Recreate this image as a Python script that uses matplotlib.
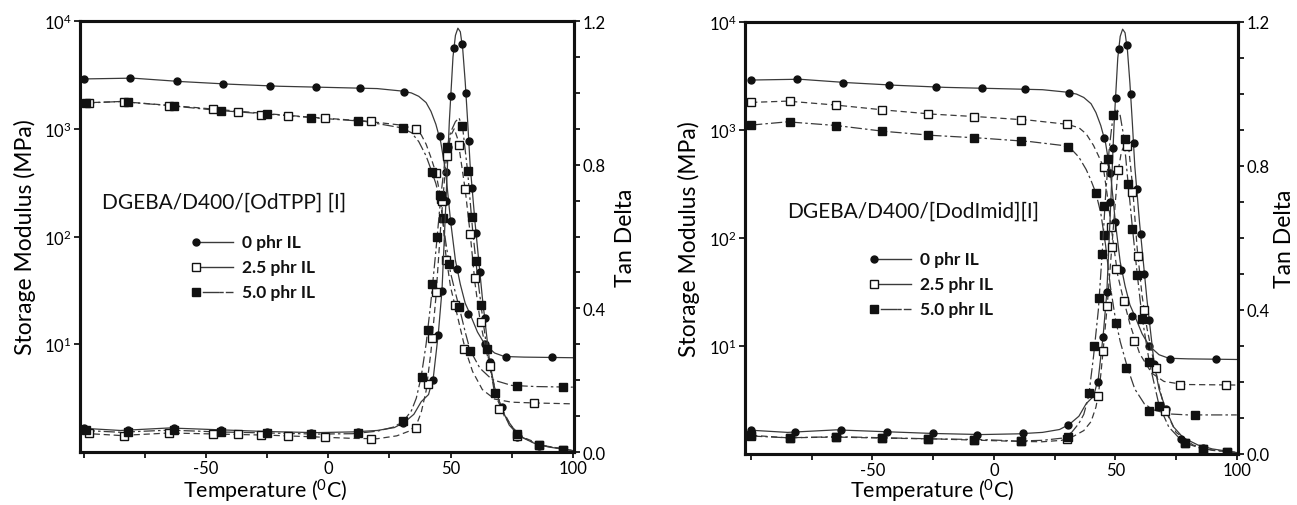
"""
DMA curves (storage modulus + tan delta) for DGEBA/D400 with two ionic liquids.
Two panels side by side, log E' on the left axis, tan delta on a twin axis.
"""

import matplotlib
matplotlib.use("Agg")
import matplotlib.pyplot as plt
from matplotlib.ticker import FixedLocator, FixedFormatter, MultipleLocator, NullLocator

plt.rcParams["font.family"] = ["Lato", "DejaVu Sans"]
plt.rcParams["mathtext.fontset"] = "custom"
plt.rcParams["mathtext.rm"] = "Lato"
plt.rcParams["mathtext.it"] = "Lato:italic"
plt.rcParams["mathtext.bf"] = "Lato:bold"

LINE = "#3a3a3a"
INK = "#111111"

# ---------------- 0 phr IL (neat resin, same in both panels) ----------------
NEAT_E_T = [-100, -81, -62, -43, -24, -5, 13, 31, 45.5, 48, 50, 52.5, 57, 64, 72.5, 91.5]
NEAT_E = [2900, 2950, 2750, 2600, 2500, 2430, 2380, 2200, 850, 400, 140, 50, 19, 10, 7.6, 7.6]
NEAT_E_LINE_T = [-100, -80, -60, -40, -20, 0, 20, 30, 34, 37, 40, 42, 44, 46, 48, 50,
                 52, 54, 56, 58, 61, 64, 68, 72, 80, 100]
NEAT_E_LINE = [2900, 2950, 2740, 2590, 2480, 2420, 2360, 2240, 2150, 2000, 1750, 1450,
               1100, 750, 400, 140, 60, 36, 24, 19, 13, 10, 8.3, 7.7, 7.6, 7.5]

NEAT_TAN_T = [-100, -82, -63, -44, -25, -7, 12, 30.5, 42.8, 44.9, 46.5, 48, 49, 50.2, 51.4,
              54.7, 56.4, 57.7, 58.8, 60.5, 62, 64, 66, 71, 77, 86, 96]
NEAT_TAN = [0.068, 0.06, 0.066, 0.062, 0.057, 0.054, 0.057, 0.08, 0.2, 0.325, 0.449, 0.7,
            0.85, 0.99, 1.125, 1.135, 1.0, 0.865, 0.735, 0.61, 0.5, 0.372, 0.25, 0.124,
            0.043, 0.018, 0.006]
NEAT_TAN_LINE_T = [-100, -85, -65, -45, -25, -5, 10, 20, 27, 31, 35, 38, 41, 43, 45, 46.5,
                   48, 49.5, 51, 52, 53, 54, 55, 56, 57, 58, 59, 60, 61, 62, 63, 64, 66,
                   68, 71, 74, 78, 84, 90, 100]
NEAT_TAN_LINE = [0.066, 0.06, 0.067, 0.062, 0.057, 0.054, 0.056, 0.06, 0.068, 0.082, 0.105,
                 0.14, 0.16, 0.21, 0.33, 0.45, 0.68, 0.92, 1.1, 1.16, 1.18, 1.17, 1.12,
                 1.03, 0.92, 0.8, 0.72, 0.64, 0.57, 0.5, 0.43, 0.37, 0.25, 0.18, 0.12,
                 0.075, 0.045, 0.025, 0.014, 0.004]

# ---------------- [OdTPP][I] panel ----------------
ODT25_E_T = [-98, -83.5, -65, -47, -37, -27.5, -16.5, -1.5, 17.5, 36, 44, 46, 48.3, 51.7, 55.7, 84]
ODT25_E = [1730, 1780, 1640, 1530, 1440, 1350, 1305, 1250, 1170, 985, 390, 225, 60, 23, 9, 2.85]
ODT25_E_LINE_T = [-100, -85, -65, -45, -25, -5, 15, 30, 35, 38, 40, 42, 44, 46, 48, 50,
                  52, 54, 56, 59, 63, 68, 75, 85, 100]
ODT25_E_LINE = [1740, 1790, 1650, 1510, 1380, 1270, 1180, 1080, 1000, 880, 720, 540, 390,
                225, 70, 34, 22, 14, 9, 5.6, 3.8, 3.1, 2.9, 2.85, 2.8]

ODT50_E_T = [-99, -82, -63, -44, -25, -7, 12, 30.5, 42.5, 45.7, 46.8, 49.5, 53.6, 58, 77, 96]
ODT50_E = [1730, 1780, 1630, 1470, 1370, 1270, 1180, 1010, 395, 245, 150, 55, 22, 8.65, 4.1, 4.0]
ODT50_E_LINE_T = [-100, -85, -65, -45, -25, -5, 15, 30, 34, 37, 40, 42, 44, 46, 48, 50,
                  52, 54, 56, 58, 62, 67, 75, 85, 100]
ODT50_E_LINE = [1730, 1790, 1640, 1480, 1370, 1260, 1170, 1020, 920, 760, 560, 420, 310,
                200, 90, 46, 30, 20, 13, 8.8, 6, 4.7, 4.15, 4.05, 4.0]

ODT25_TAN_T = [-98, -83.5, -65, -47, -37, -27.5, -16.5, -1.5, 17.5, 36, 40.6, 42.5, 44,
               46.7, 48.6, 53.3, 56, 58, 59.8, 62.4, 66, 70, 77, 86, 96]
ODT25_TAN = [0.053, 0.045, 0.053, 0.05, 0.05, 0.047, 0.044, 0.041, 0.036, 0.066, 0.19,
             0.317, 0.445, 0.7, 0.825, 0.855, 0.732, 0.607, 0.484, 0.361, 0.24, 0.12,
             0.045, 0.02, 0.006]
ODT25_TAN_LINE_T = [-100, -85, -65, -45, -25, -5, 10, 20, 28, 33, 36, 38, 40, 42, 44, 46,
                    48, 50, 51.5, 53, 54.5, 56, 58, 60, 62, 64, 66, 68, 71, 75, 80, 88, 100]
ODT25_TAN_LINE = [0.052, 0.046, 0.053, 0.05, 0.047, 0.042, 0.038, 0.037, 0.045, 0.058,
                  0.075, 0.11, 0.17, 0.28, 0.43, 0.63, 0.8, 0.88, 0.9, 0.87, 0.8, 0.73,
                  0.61, 0.47, 0.37, 0.3, 0.24, 0.18, 0.12, 0.07, 0.04, 0.018, 0.004]

ODT50_TAN_T = [-99, -82, -63, -44, -25, -7, 12, 30.5, 38.3, 40.6, 42.5, 44.5, 46, 48.5,
               54.5, 57, 58.8, 60.4, 62.3, 64.8, 68, 77, 86, 96]
ODT50_TAN = [0.06, 0.055, 0.06, 0.056, 0.053, 0.05, 0.052, 0.087, 0.21, 0.34, 0.468, 0.6,
             0.713, 0.85, 0.907, 0.783, 0.653, 0.531, 0.41, 0.287, 0.164, 0.05, 0.02, 0.006]
ODT50_TAN_LINE_T = [-100, -85, -65, -45, -25, -5, 10, 20, 27, 31, 34, 36, 38, 40, 42, 44,
                    46, 48, 50, 52, 53.5, 55, 57, 59, 61, 63, 65, 68, 72, 78, 86, 100]
ODT50_TAN_LINE = [0.06, 0.055, 0.061, 0.056, 0.053, 0.05, 0.051, 0.058, 0.07, 0.088, 0.115,
                  0.15, 0.21, 0.3, 0.42, 0.56, 0.71, 0.83, 0.89, 0.92, 0.93, 0.9, 0.78,
                  0.62, 0.49, 0.38, 0.28, 0.165, 0.1, 0.045, 0.02, 0.004]

# ---------------- [DodImid][I] panel ----------------
DOD25_E_T = [-100, -84, -65, -46, -27, -8, 11, 30, 45.5, 48.3, 50.4, 53.6, 57.8, 76.8, 95.4]
DOD25_E = [1800, 1840, 1700, 1540, 1400, 1330, 1245, 1135, 450, 127, 52, 26, 11.2, 4.35, 4.35]
DOD25_E_LINE_T = [-100, -85, -65, -45, -25, -5, 15, 30, 35, 38, 41, 43, 45, 47, 49, 51,
                  53, 56, 60, 65, 70, 78, 100]
DOD25_E_LINE = [1800, 1850, 1700, 1530, 1400, 1320, 1230, 1130, 1050, 920, 720, 580, 460,
                220, 95, 45, 29, 16, 8.5, 5.6, 4.7, 4.4, 4.35]

DOD50_E_T = [-100, -84, -65, -46, -27, -8, 11, 30.5, 42, 45.3, 50.4, 54.3, 64, 83]
DOD50_E = [1110, 1190, 1100, 975, 895, 843, 795, 700, 260, 107, 16.3, 6.3, 2.5, 2.3]
DOD50_E_LINE_T = [-100, -85, -65, -45, -25, -5, 15, 28, 32, 35, 38, 40, 42, 44, 46, 48,
                  50, 52, 55, 58, 62, 66, 72, 80, 100]
DOD50_E_LINE = [1110, 1190, 1100, 970, 890, 840, 780, 720, 660, 560, 430, 340, 260, 170,
                85, 35, 18, 11, 6.3, 4.0, 2.9, 2.55, 2.35, 2.3, 2.3]

DOD25_TAN_T = [-100, -84, -65, -46, -27, -8, 11, 30, 43, 44.9, 46.7, 48.6, 51, 55, 57,
               59.5, 62, 66.7, 70.5, 78.6, 86, 96]
DOD25_TAN = [0.053, 0.044, 0.047, 0.044, 0.042, 0.039, 0.035, 0.042, 0.162, 0.287, 0.412,
             0.574, 0.79, 0.856, 0.728, 0.55, 0.4, 0.24, 0.12, 0.03, 0.014, 0.005]
DOD25_TAN_LINE_T = [-100, -85, -65, -45, -25, -5, 10, 20, 28, 33, 37, 40, 42, 43, 44, 45,
                    46.5, 48.5, 50, 51, 52.5, 54, 55.5, 57, 59, 61, 63, 66, 70, 75, 82, 90, 100]
DOD25_TAN_LINE = [0.052, 0.045, 0.047, 0.044, 0.042, 0.038, 0.035, 0.034, 0.038, 0.05,
                  0.065, 0.09, 0.13, 0.165, 0.22, 0.29, 0.4, 0.57, 0.7, 0.78, 0.84, 0.86,
                  0.85, 0.75, 0.57, 0.44, 0.35, 0.25, 0.13, 0.06, 0.025, 0.01, 0.004]

DOD50_TAN_T = [-100, -84, -65, -46, -27, -8, 11, 30.5, 39.3, 41.4, 43.4, 44.5, 45.5, 47,
               49, 54, 55.3, 57, 59, 61, 64, 68, 78.6, 86, 96]
DOD50_TAN = [0.05, 0.044, 0.047, 0.045, 0.042, 0.04, 0.036, 0.046, 0.17, 0.3, 0.432, 0.556,
             0.69, 0.82, 0.942, 0.875, 0.75, 0.625, 0.497, 0.375, 0.255, 0.134, 0.03,
             0.014, 0.005]
DOD50_TAN_LINE_T = [-100, -85, -65, -45, -25, -5, 10, 20, 28, 32, 35, 37, 39, 41, 43, 44.5,
                    46, 47.5, 49, 50.5, 52, 53.5, 55, 57, 59, 61, 64, 68, 72, 78, 86, 100]
DOD50_TAN_LINE = [0.05, 0.045, 0.048, 0.045, 0.042, 0.04, 0.036, 0.038, 0.044, 0.06, 0.085,
                  0.11, 0.16, 0.27, 0.4, 0.55, 0.72, 0.85, 0.935, 0.96, 0.94, 0.88, 0.77,
                  0.63, 0.5, 0.38, 0.255, 0.135, 0.075, 0.032, 0.014, 0.004]

LEGEND_LABELS = ["0 phr IL", "2.5 phr IL", "5.0 phr IL"]
X_TICKS = [-100, -75, -50, -25, 0, 25, 50, 75, 100]
X_TICK_LABELS = ["", "", "-50", "", "0", "", "50", "", "100"]
Y_TICKS = [10, 100, 1000, 10000]
Y_TICK_LABELS = ["$10^{1}$", "$10^{2}$", "$10^{3}$", "$10^{4}$"]

STYLES = [
    dict(ls="-", marker="o", ms=5.0, mfc=INK),
    dict(ls=(0, (5, 3)), marker="s", ms=5.8, mfc="white"),
    dict(ls=(0, (9, 2.5, 2, 2.5)), marker="s", ms=5.4, mfc=INK),
]
LEGEND_LS = ["-", "-", (0, (3, 1.5, 12, 0.1))]


def _curve(ax, lt, lv, mt, mv, st):
    ax.plot(lt, lv, color=LINE, lw=0.9, ls=st["ls"], zorder=2)
    ax.plot(mt, mv, ls="none", marker=st["marker"], ms=st["ms"], mfc=st["mfc"],
            mec=INK, mew=1.0, zorder=3)


def panel(rect, xlim, series, note, note_xy, leg_xy, xlabel_xy, tan_pad):
    ax = fig.add_axes(rect)
    ax2 = ax.twinx()
    for (elt, elv, emt, emv, tlt, tlv, tmt, tmv), st in zip(series, STYLES):
        _curve(ax, elt, elv, emt, emv, st)
        _curve(ax2, tlt, tlv, tmt, tmv, st)

    ax.set_yscale("log")
    ax.set_ylim(1, 1e4)
    ax.set_xlim(*xlim)
    ax.yaxis.set_major_locator(FixedLocator(Y_TICKS))
    ax.yaxis.set_major_formatter(FixedFormatter(Y_TICK_LABELS))
    ax.yaxis.set_minor_locator(NullLocator())
    ax.xaxis.set_major_locator(FixedLocator(X_TICKS))
    ax.xaxis.set_major_formatter(FixedFormatter(X_TICK_LABELS))
    ax.tick_params(direction="out", length=4, width=1.2, labelsize=12, pad=2)

    ax2.set_ylim(0, 1.2)
    ax2.yaxis.set_major_locator(MultipleLocator(0.4))
    ax2.yaxis.set_minor_locator(MultipleLocator(0.1))
    ax2.yaxis.set_major_formatter(plt.FuncFormatter(lambda v, p: f"{v:.1f}"))
    ax2.tick_params(which="both", direction="out", length=4, width=1.2, labelsize=12, pad=2)

    for a in (ax, ax2):
        for s in a.spines.values():
            s.set_linewidth(2.2)
            s.set_color(INK)

    ax.set_ylabel("Storage Modulus (MPa)", fontsize=16.5, labelpad=6)
    ax2.set_ylabel("Tan Delta", fontsize=16.5, labelpad=tan_pad)
    ax.set_xlabel("Temperature ($^{0}$C)", fontsize=15.5)
    ax.xaxis.set_label_coords(*xlabel_xy)

    ax.text(note_xy[0], note_xy[1], note, transform=ax.transAxes, fontsize=15,
            va="center", ha="left", color=INK)

    # hand-drawn legend (marker at the left end of a short line)
    x0, y0 = leg_xy
    for i, (lab, st) in enumerate(zip(LEGEND_LABELS, STYLES)):
        y = y0 - i * 0.058
        ax2.plot([x0, x0 + 0.075], [y, y], transform=ax2.transAxes, color=LINE, lw=1.0,
                 ls=LEGEND_LS[i], clip_on=False)
        ax2.plot([x0], [y], transform=ax2.transAxes, marker=st["marker"], ms=st["ms"],
                 mfc=st["mfc"], mec=INK, mew=1.0, ls="none")
        ax2.text(x0 + 0.093, y, lab, transform=ax2.transAxes, fontsize=12.5,
                 fontweight="bold", va="center", ha="left", color=INK)
    return ax, ax2


fig = plt.figure(figsize=(12.97, 5.06), dpi=100)

neat = (NEAT_E_LINE_T, NEAT_E_LINE, NEAT_E_T, NEAT_E,
        NEAT_TAN_LINE_T, NEAT_TAN_LINE, NEAT_TAN_T, NEAT_TAN)

panel([0.0617, 0.1047, 0.3809, 0.8518], (-101.5, 100.5),
      [neat,
       (ODT25_E_LINE_T, ODT25_E_LINE, ODT25_E_T, ODT25_E,
        ODT25_TAN_LINE_T, ODT25_TAN_LINE, ODT25_TAN_T, ODT25_TAN),
       (ODT50_E_LINE_T, ODT50_E_LINE, ODT50_E_T, ODT50_E,
        ODT50_TAN_LINE_T, ODT50_TAN_LINE, ODT50_TAN_T, ODT50_TAN)],
      "DGEBA/D400/[OdTPP] [I]", (0.045, 0.58), (0.235, 0.487), (0.375, -0.058), 7)

panel([0.5744, 0.1008, 0.3801, 0.8538], (-102.5, 100.5),
      [neat,
       (DOD25_E_LINE_T, DOD25_E_LINE, DOD25_E_T, DOD25_E,
        DOD25_TAN_LINE_T, DOD25_TAN_LINE, DOD25_TAN_T, DOD25_TAN),
       (DOD50_E_LINE_T, DOD50_E_LINE, DOD50_E_T, DOD50_E,
        DOD50_TAN_LINE_T, DOD50_TAN_LINE, DOD50_TAN_T, DOD50_TAN)],
      "DGEBA/D400/[DodImid][I]", (0.085, 0.5625), (0.262, 0.451), (0.38, -0.053), 3)

fig.savefig("out.png", dpi=100, facecolor="white")
